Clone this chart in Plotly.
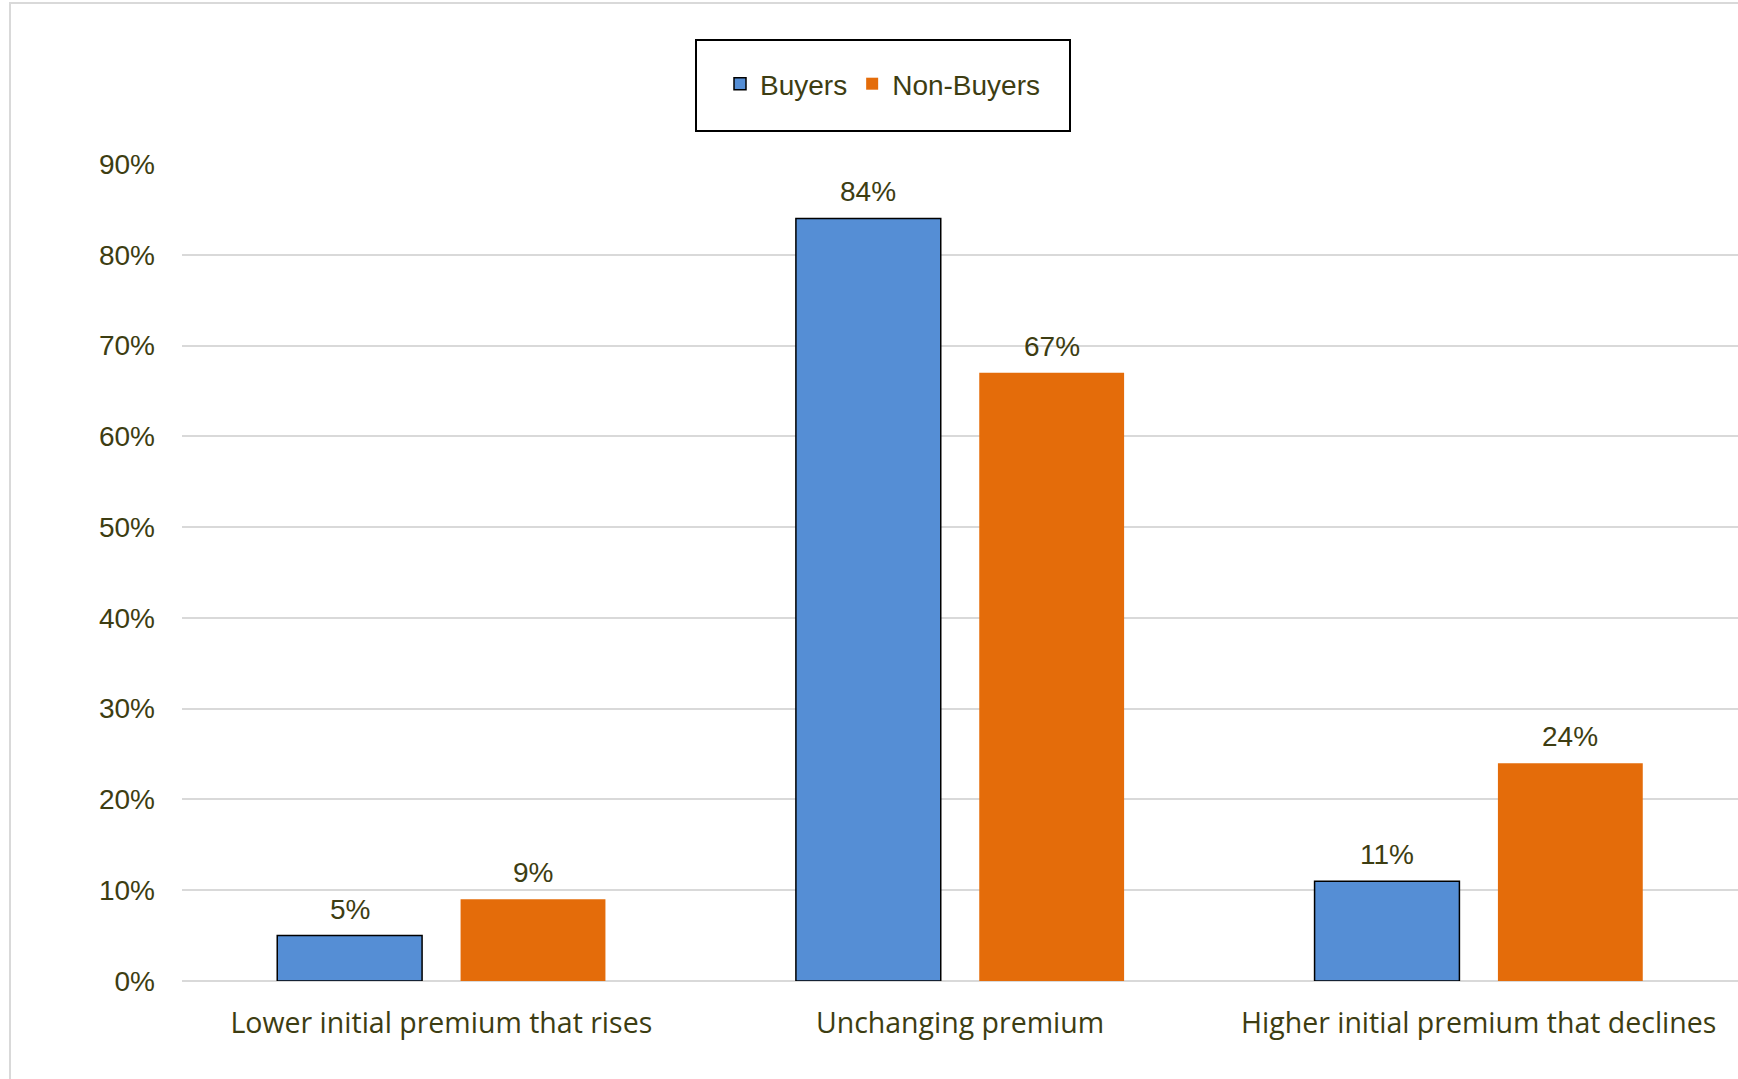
import plotly.graph_objects as go

categories = ["Lower initial premium that rises", "Unchanging premium", "Higher initial premium that declines"]
buyers = [0.05, 0.84, 0.11]
non_buyers = [0.09, 0.67, 0.24]
y_ticks = [0, 0.1, 0.2, 0.3, 0.4, 0.5, 0.6, 0.7, 0.8, 0.9]

TEXT = "#3d3d12"
GRID = "#d9d9d9"
W, H = 1738, 1079
ML, MR, MT, MB = 182, 0, 164, 98
PW, PH = W - ML - MR, H - MT - MB


def px_x(p):
    return (p - ML) / PW


def px_y(p):
    return (H - MB - p) / PH


fig = go.Figure()
fig.add_trace(go.Bar(
    name="Buyers", x=categories, y=buyers,
    marker=dict(color="#558ED5", line=dict(color="#000000", width=1.5)),
))
fig.add_trace(go.Bar(
    name="Non-Buyers", x=categories, y=non_buyers,
    marker=dict(color="#E46C0A", line=dict(width=0)),
))

bargap, bargroupgap = 0.293, 0.21
slot = (1 - bargap) / 2
annotations = []
for i in range(len(categories)):
    for vals, off in ((buyers, -slot / 2), (non_buyers, slot / 2)):
        annotations.append(dict(
            x=i + off, y=vals[i], xref="x", yref="y",
            text=f"{vals[i]*100:.0f}%", showarrow=False,
            yanchor="bottom", yshift=9,
            font=dict(family="Liberation Sans", size=28, color=TEXT),
        ))

shapes = [
    # legend frame
    dict(type="rect", xref="paper", yref="paper",
         x0=px_x(696), x1=px_x(1070), y0=px_y(131), y1=px_y(40),
         line=dict(color="#000000", width=2), fillcolor="rgba(0,0,0,0)"),
    # chart area border (top and left edges)
    dict(type="path", xref="paper", yref="paper",
         path=f"M {px_x(10)},{px_y(1085)} L {px_x(10)},{px_y(3)} L {px_x(1745)},{px_y(3)}",
         line=dict(color=GRID, width=2)),
]

fig.update_layout(
    width=W, height=H,
    margin=dict(l=ML, r=MR, t=MT, b=MB, pad=0),
    paper_bgcolor="white", plot_bgcolor="white",
    barmode="group", bargap=bargap, bargroupgap=bargroupgap,
    font=dict(family="Liberation Sans", size=28, color=TEXT),
    showlegend=True,
    legend=dict(
        orientation="h", x=px_x(720), xanchor="left",
        y=px_y(59), yanchor="top",
        font=dict(family="Liberation Sans", size=28, color=TEXT),
        bgcolor="rgba(0,0,0,0)", borderwidth=0,
    ),
    annotations=annotations,
    shapes=shapes,
)
fig.update_xaxes(
    type="category", showgrid=False, showline=False, zeroline=False,
    ticks="", ticklabelstandoff=22,
    tickfont=dict(family="Open Sans", size=28.5, color=TEXT),
)
fig.update_yaxes(
    range=[0, 0.9], tickvals=y_ticks, tickformat=".0%",
    showgrid=True, gridcolor=GRID, gridwidth=1.5,
    zeroline=True, zerolinecolor=GRID, zerolinewidth=1.5,
    showline=False, ticks="", ticklabelstandoff=26,
    tickfont=dict(family="Liberation Sans", size=28, color=TEXT),
)

fig.write_html("out.html")
